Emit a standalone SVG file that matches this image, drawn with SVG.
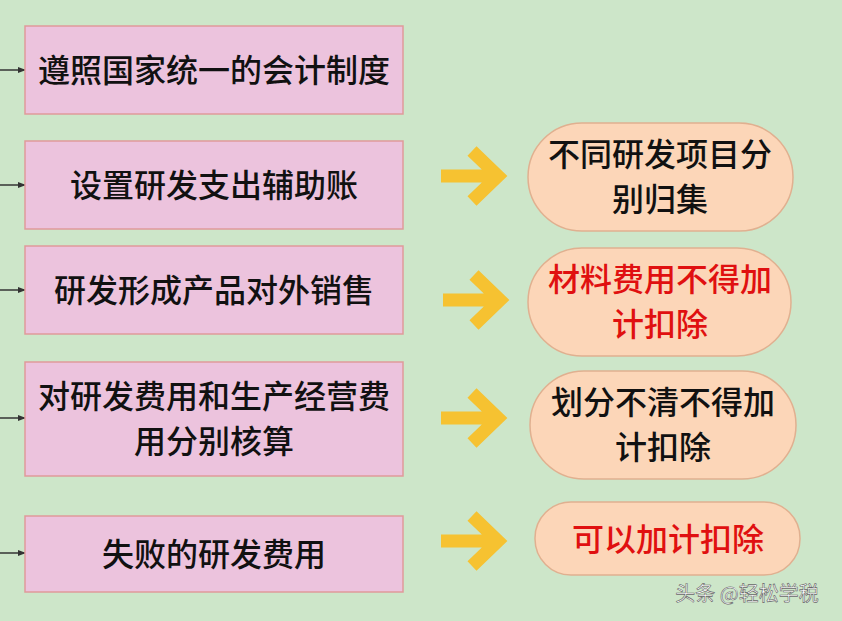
<svg xmlns="http://www.w3.org/2000/svg" width="842" height="621" viewBox="0 0 842 621">
<style>
.b{fill:#ecc3dd;stroke:#e09a9a;stroke-width:1.5}
.p{fill:#fcd6b8;stroke:#e0b090;stroke-width:1.5}
text{font-family:"Noto Sans CJK SC",sans-serif;font-size:32px;font-weight:500;text-anchor:middle;fill:#111}
.r{fill:#e01010}
.y{fill:none;stroke:#f6c231;stroke-width:13;stroke-linecap:butt}
.l{stroke:#333;stroke-width:1.5;fill:none}
</style>
<defs><marker id="a" markerWidth="8" markerHeight="8" refX="7" refY="4" orient="auto" markerUnits="userSpaceOnUse"><path d="M0,1 L8,4 L0,7z" fill="#333"/></marker></defs>
<rect width="842" height="621" fill="#cde6c9"/>
<g id="connectors">
<path class="l" marker-end="url(#a)" d="M0,70H25"/>
<path class="l" marker-end="url(#a)" d="M0,185H25"/>
<path class="l" marker-end="url(#a)" d="M0,290H25"/>
<path class="l" marker-end="url(#a)" d="M0,418H25"/>
<path class="l" marker-end="url(#a)" d="M0,553H25"/>
<g class="y">
<path d="M441,176H494M472,151L498,176L472,201"/>
<path d="M443,300H496M474,275L500,300L474,325"/>
<path d="M441,418H494M472,393L498,418L472,443"/>
<path d="M441,541H494M472,516L498,541L472,566"/>
</g>
</g>
<g id="n1"><rect class="b" x="25" y="26" width="378" height="88"/><text x="214" y="82">遵照国家统一的会计制度</text></g>
<g id="n2"><rect class="b" x="25" y="141" width="378" height="88"/><text x="214" y="197">设置研发支出辅助账</text></g>
<g id="n3"><rect class="b" x="25" y="246" width="378" height="88"/><text x="214" y="302">研发形成产品对外销售</text></g>
<g id="n4"><rect class="b" x="25" y="362" width="378" height="114"/><text x="214" y="408">对研发费用和生产经营费</text><text x="214" y="453">用分别核算</text></g>
<g id="n5"><rect class="b" x="25" y="516" width="378" height="76"/><text x="214" y="566">失败的研发费用</text></g>
<g id="p1"><rect class="p" x="528" y="123" width="265" height="108" rx="54"/><text x="660" y="166">不同研发项目分</text><text x="660" y="211">别归集</text></g>
<g id="p2"><rect class="p" x="528" y="248" width="263" height="108" rx="54"/><text class="r" x="660" y="291">材料费用不得加</text><text class="r" x="660" y="336">计扣除</text></g>
<g id="p3"><rect class="p" x="530" y="371" width="266" height="108" rx="54"/><text x="663" y="414">划分不清不得加</text><text x="663" y="459">计扣除</text></g>
<g id="p4"><rect class="p" x="535" y="502" width="265" height="73" rx="36"/><text class="r" x="668" y="551">可以加计扣除</text></g>
<text x="747" y="601" style="font-size:20px;font-weight:400;fill:#fff;stroke:#666;stroke-width:0.6">头条 @轻松学税</text>
</svg>
